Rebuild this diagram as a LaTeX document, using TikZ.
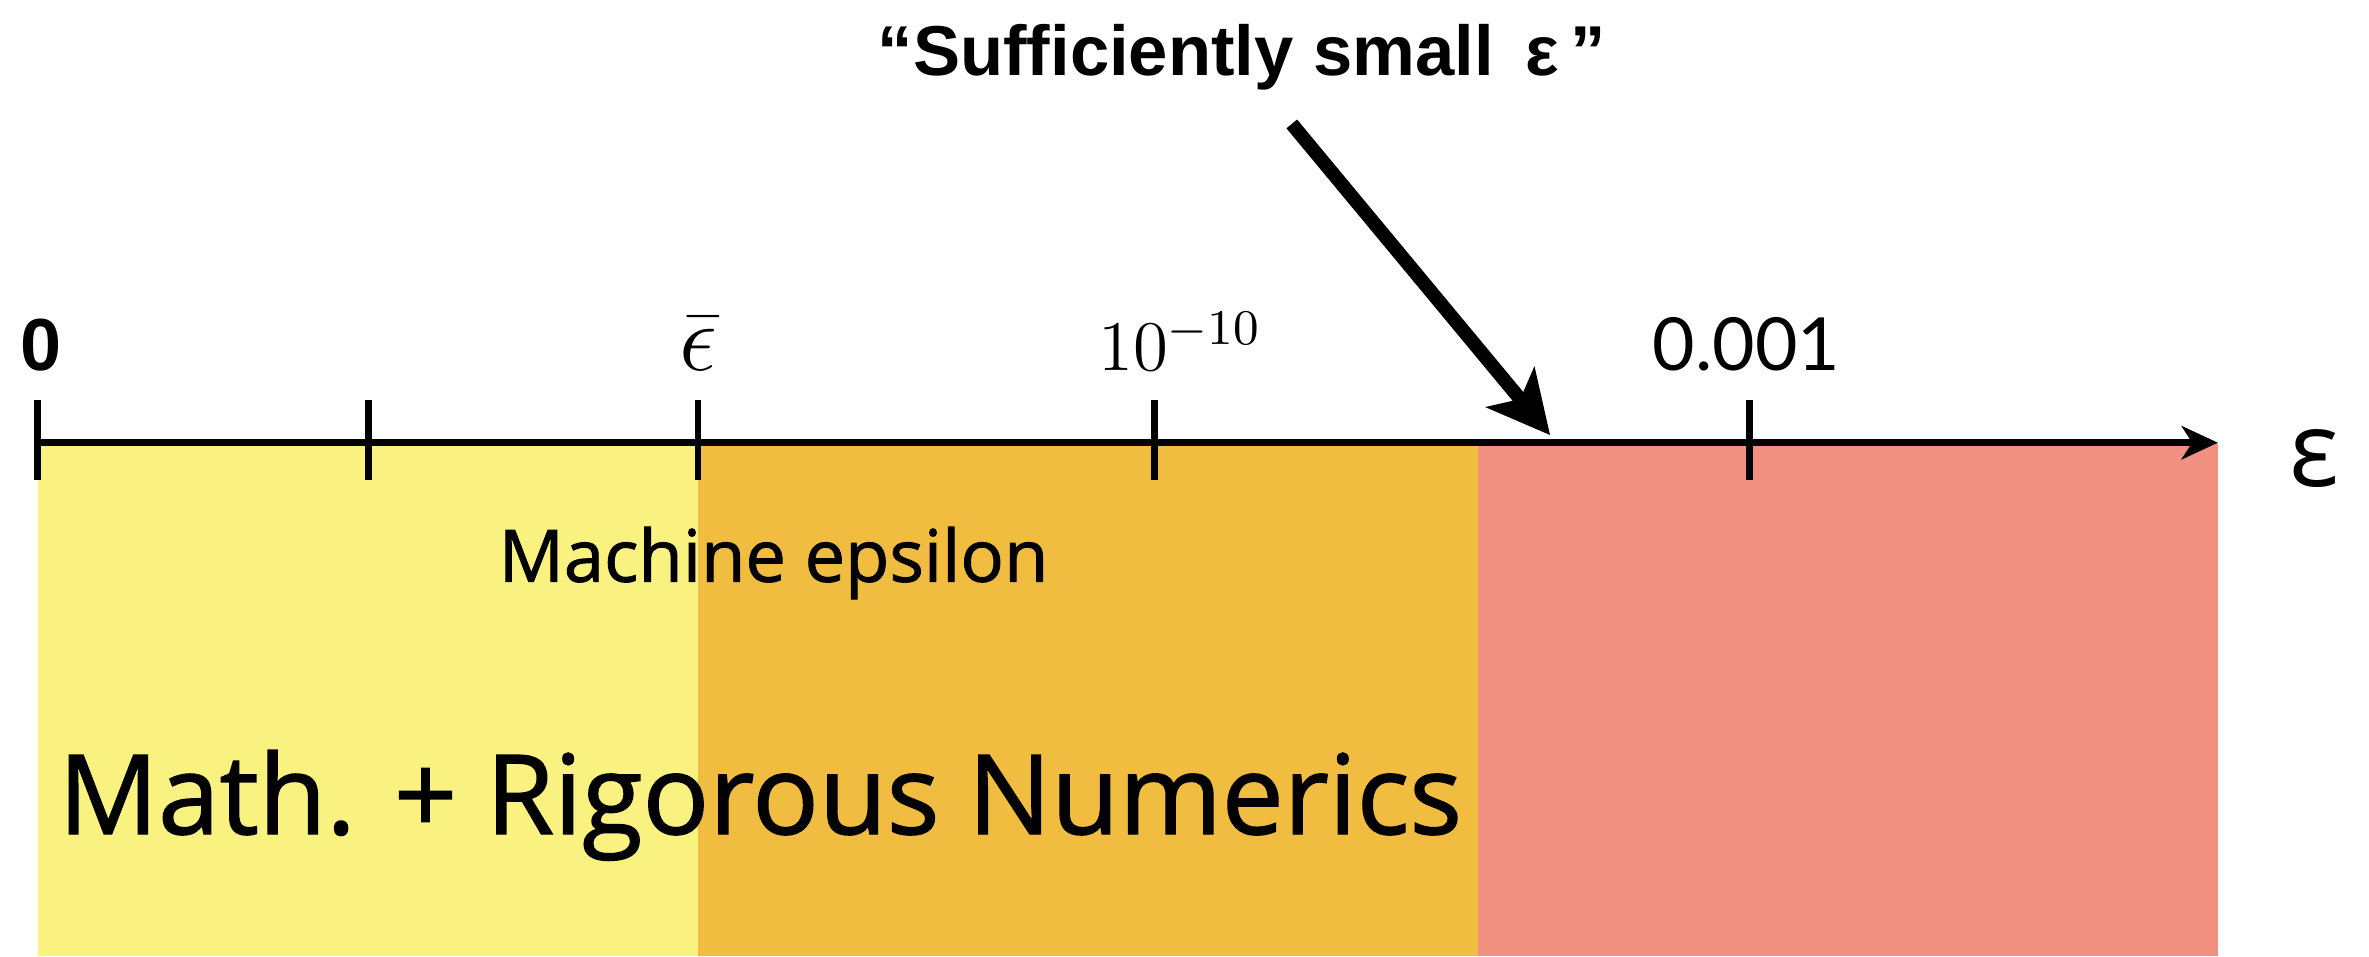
\RequirePackage{fix-cm}
\documentclass[tikz,border=0pt]{standalone}
\usepackage[no-math]{fontspec}
\newfontfamily\opensans{Open Sans}
\newfontfamily\opensansmed{Open Sans}[FakeBold=1.3]
\newfontfamily\helv{Liberation Sans}
\newfontfamily\latofont{Lato}
\usetikzlibrary{arrows.meta}

\definecolor{zoneyellow}{RGB}{249,242,128}
\definecolor{zoneorange}{RGB}{240,189,64}
\definecolor{zonered}{RGB}{241,144,128}

\begin{document}
\begin{tikzpicture}[
    x=0.1mm, y=-0.1mm,
    axisline/.style={line width=1.3pt},
    ticklabel/.style={anchor=base, inner sep=0pt} % Labels sit on one baseline
]
\useasboundingbox (0,0) rectangle (1568,633);

% Coloured zones under the axis
\fill[zoneyellow] (25,293) rectangle (462,633);
\fill[zoneorange] (462,293) rectangle (978,633);
\fill[zonered] (978,293) rectangle (1468,633);

% Axis
\coordinate (origin) at (25,293);
\coordinate (axisend) at (1468,293);
\draw[axisline, -{Stealth[length=2.4mm, width=2.2mm, inset=0.7mm]}] (origin) -- (axisend);
\node[anchor=base, inner sep=0pt, font=\opensans\fontsize{19.7}{22}\selectfont] (epsname) at (1532,322) {ε};

% Ticks
\foreach \x in {25, 244, 462, 764, 1158}
    \draw[axisline] (\x,265) -- (\x,318);

% Tick labels
\node[ticklabel, font=\helv\bfseries\fontsize{13.9}{16}\selectfont] (zerolab) at (27,245) {0};
\node[ticklabel, font=\fontsize{18}{20}\selectfont] (ebarlab) at (462,245) {$\bar{\epsilon}$};
\node[ticklabel, font=\fontsize{13.4}{16}\selectfont] (tenlab) at (781,245) {$10^{-10}$};
\node[ticklabel, font=\latofont\fontsize{13.8}{16}\selectfont] (milli) at (1156,245) {0.001};

% Zone texts
\node[anchor=base, inner sep=0pt, font=\opensansmed\fontsize{13.6}{16}\selectfont] (machine) at (512,385) {Machine epsilon};
\node[anchor=base west, inner sep=0pt, font=\opensansmed\fontsize{20.8}{24}\selectfont] (rigorous) at (38,552) {Math. + Rigorous Numerics};

% Pointer to the small epsilon range
\node[anchor=base, inner sep=0pt, font=\helv\bfseries\fontsize{13.3}{16}\selectfont] (smalleps) at (822,50) {“Sufficiently small \,ε\,”};
\coordinate (pointertail) at (855,82);
\coordinate (pointertip) at (1026,288);
\draw[line width=2.6pt, -{Stealth[length=4.1mm, width=4.1mm, inset=1mm]}] (pointertail) -- (pointertip);

\end{tikzpicture}
\end{document}
